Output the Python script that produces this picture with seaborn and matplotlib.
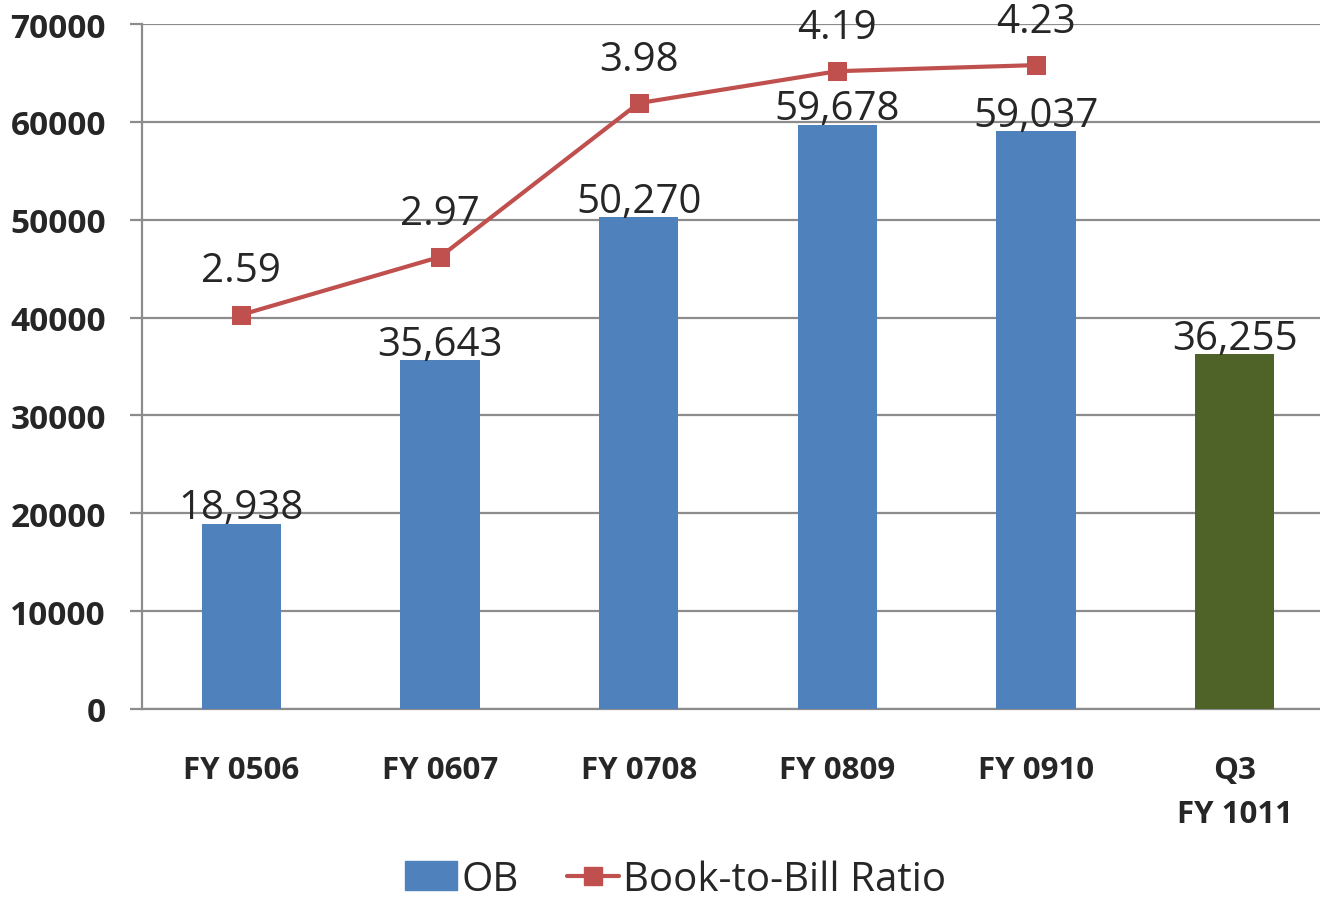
import matplotlib
matplotlib.use("Agg")
import matplotlib.pyplot as plt
from matplotlib.patches import Patch
from matplotlib.lines import Line2D
import seaborn as sns

# data
categories = ["FY 0506", "FY 0607", "FY 0708", "FY 0809", "FY 0910", "Q3\nFY 1011"]
ob_values = [18938, 35643, 50270, 59678, 59037, 36255]
ob_labels = ["18,938", "35,643", "50,270", "59,678", "59,037", "36,255"]
ratio_categories = ["FY 0506", "FY 0607", "FY 0708", "FY 0809", "FY 0910"]
ratio_values = [2.59, 2.97, 3.98, 4.19, 4.23]

blue = "#4F81BD"
green = "#4F6228"
red = "#C0504D"
grid_col = "#8C8C8C"
bar_colors = [blue, blue, blue, blue, blue, green]

sns.set_theme(style="white")
plt.rcParams["font.family"] = ["Open Sans", "DejaVu Sans"]

fig = plt.figure(figsize=(13.2, 9.03), dpi=100)
ax = fig.add_axes([142 / 1320, 1 - 710 / 903, 1192 / 1320, 685 / 903])

sns.barplot(x=categories, y=ob_values, hue=categories, palette=bar_colors,
            width=0.4, legend=False, saturation=1, linewidth=0, ax=ax, zorder=3)

ax.set_xlim(-0.5, 5.5)
ax.set_ylim(0, 70000)
ax.set_yticks(range(0, 70001, 10000))
ax.yaxis.grid(True, color=grid_col, lw=1.6)
ax.set_axisbelow(True)
for s in ["top", "right"]:
    ax.spines[s].set_visible(False)
for s in ["left", "bottom"]:
    ax.spines[s].set_color(grid_col)
    ax.spines[s].set_linewidth(1.6)

ax.tick_params(axis="y", direction="out", length=9, width=1.6, color=grid_col,
               pad=17, labelsize=24)
ax.set_xticks(range(len(categories)))
ax.set_xticklabels(categories, linespacing=1.6)
ax.set_xticks([i - 0.5 for i in range(len(categories) + 1)], minor=True)
ax.tick_params(axis="x", which="major", length=0, pad=33, labelsize=22.5)
ax.tick_params(axis="x", which="minor", direction="out", length=9, width=1.6,
               color=grid_col)
for lab in ax.get_xticklabels() + ax.get_yticklabels():
    lab.set_fontweight("bold")
ax.set_xlabel("")
ax.set_ylabel("")

for i, (v, t) in enumerate(zip(ob_values, ob_labels)):
    ax.annotate(t, (i, v), xytext=(0, 4), textcoords="offset points",
                ha="center", va="baseline", fontsize=29)

# book-to-bill ratio on hidden secondary axis
ax2 = ax.twinx()
x_pos = list(range(len(ratio_categories)))
sns.lineplot(x=x_pos, y=ratio_values, color=red, lw=3, marker="s",
             markersize=13, markeredgecolor=red, ax=ax2, zorder=4)
ax2.set_ylim(0, 4.5)
ax2.set_xlim(-0.5, 5.5)
ax2.axis("off")
for i, v in enumerate(ratio_values):
    ax2.annotate(f"{v:.2f}", (i, v), xytext=(0, 24), textcoords="offset points",
                 ha="center", va="baseline", fontsize=29)

handles = [Patch(color=blue, label="OB"),
           Line2D([0], [0], color=red, lw=3, marker="s", markersize=13,
                  label="Book-to-Bill Ratio")]
fig.legend(handles=handles, loc="center", bbox_to_anchor=(0.512, 0.025),
           ncol=2, frameon=False, fontsize=29, handlelength=1.3,
           handletextpad=0.1, columnspacing=1.2)

fig.savefig("out.png", dpi=100)
